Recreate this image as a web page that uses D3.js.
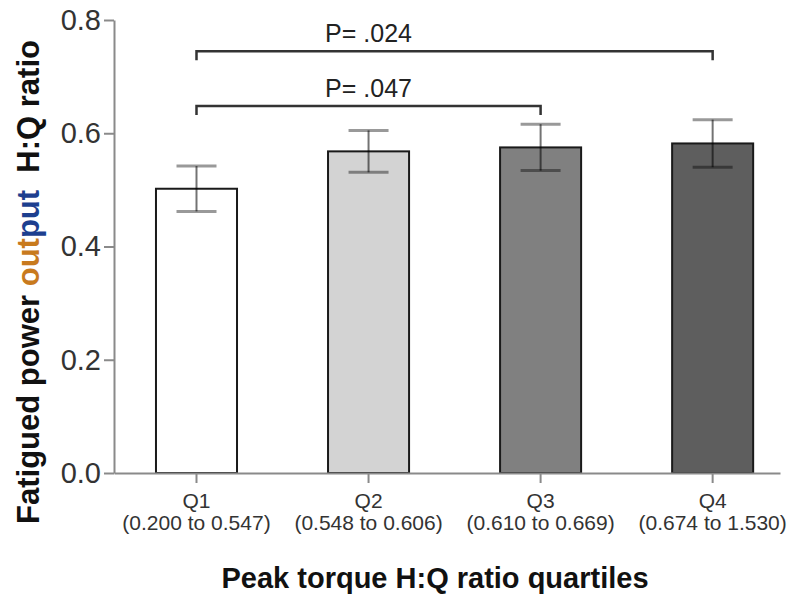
<!DOCTYPE html>
<html>
<head>
<meta charset="utf-8">
<script src="https://cdn.jsdelivr.net/npm/d3@7"></script>
<style>
  body { margin: 0; background: #fff; }
  svg, svg text { font-family: "Liberation Sans", Arial, sans-serif; }
</style>
</head>
<body>
<div id="chart"></div>
<script>
var quartiles = ["Q1", "Q2", "Q3", "Q4"];
var ranges = ["(0.200 to 0.547)", "(0.548 to 0.606)", "(0.610 to 0.669)", "(0.674 to 1.530)"];
var means = [0.502, 0.568, 0.575, 0.582];
var errors = [0.040, 0.037, 0.041, 0.042];
var fills = ["#ffffff", "#d3d3d3", "#808080", "#5e5e5e"];
var yTicks = [0.0, 0.2, 0.4, 0.6, 0.8];

// significance brackets: from, to, height, label
var brackets = [
    { from: "Q1", to: "Q4", y: 0.745, label: "P= .024" },
    { from: "Q1", to: "Q3", y: 0.648, label: "P= .047" }
];

const w = 792;
const h = 599;

const svg = d3.select("#chart")
    .append("svg")
    .attr("width", w)
    .attr("height", h);

const xScale = d3.scaleBand()
    .domain(quartiles)
    .range([114, 780])
    .paddingInner(0.529)
    .paddingOuter(0.2)
    .align(0.61);

const yScale = d3.scaleLinear()
    .domain([0, 0.8])
    .range([473, 20]);

const cx = (q) => xScale(q) + xScale.bandwidth() / 2;

// bars
svg.selectAll("rect.bar")
    .data(quartiles)
    .enter()
    .append("rect")
    .attr("class", "bar")
    .attr("x", (d) => xScale(d))
    .attr("y", (d, i) => yScale(means[i]))
    .attr("width", xScale.bandwidth())
    .attr("height", (d, i) => yScale(0) - yScale(means[i]))
    .attr("fill", (d, i) => fills[i])
    .attr("stroke", "#1a1a1a")
    .attr("stroke-width", 2);

// error bars
const capHalf = 20;
const err = svg.append("g").attr("class", "errors");
quartiles.forEach((q, i) => {
    var top = yScale(means[i] + errors[i]);
    var bot = yScale(means[i] - errors[i]);
    err.append("line")
        .attr("x1", cx(q)).attr("x2", cx(q))
        .attr("y1", top).attr("y2", bot)
        .attr("stroke", "#000").attr("stroke-opacity", 0.55).attr("stroke-width", 2);
    [top, bot].forEach((yy) => {
        err.append("line")
            .attr("x1", cx(q) - capHalf).attr("x2", cx(q) + capHalf)
            .attr("y1", yy).attr("y2", yy)
            .attr("stroke", "#000").attr("stroke-opacity", 0.4).attr("stroke-width", 3);
    });
});

// Y axis
const yAxis = d3.axisLeft(yScale)
    .tickValues(yTicks)
    .tickFormat(d3.format(".1f"))
    .tickSize(10)
    .tickSizeOuter(0)
    .tickPadding(3);

const gy = svg.append("g")
    .attr("id", "y-axis")
    .attr("transform", "translate(114,0)")
    .call(yAxis)
    .attr("font-family", "Liberation Sans, Arial, sans-serif");
gy.select(".domain").attr("stroke", "#8a8a8a").attr("stroke-width", 2);
gy.selectAll(".tick line").attr("stroke", "#8a8a8a").attr("stroke-width", 2);
gy.selectAll(".tick text")
    .attr("fill", "#333")
    .style("font-size", "29px");

// X axis
const xAxis = d3.axisBottom(xScale)
    .tickSize(10)
    .tickSizeOuter(0)
    .tickFormat("");

const gx = svg.append("g")
    .attr("id", "x-axis")
    .attr("transform", "translate(0,473)")
    .call(xAxis)
    .attr("font-family", "Liberation Sans, Arial, sans-serif");
gx.select(".domain").attr("stroke", "#8a8a8a").attr("stroke-width", 2);
gx.selectAll(".tick line").attr("stroke", "#8a8a8a").attr("stroke-width", 2);

gx.selectAll(".tick").each(function (d, i) {
    var t = d3.select(this).append("text")
        .attr("fill", "#333")
        .attr("text-anchor", "middle")
        .style("font-size", "21px");
    t.append("tspan").attr("x", 0).attr("y", 35).text(d);
    t.append("tspan").attr("x", 0).attr("y", 57).text(ranges[i]);
});

// significance brackets
const br = svg.append("g").attr("class", "brackets");
brackets.forEach((b) => {
    var yy = yScale(b.y);
    var x1 = cx(b.from), x2 = cx(b.to);
    br.append("path")
        .attr("d", "M" + x1 + "," + (yy + 9) + "V" + yy + "H" + x2 + "V" + (yy + 9))
        .attr("fill", "none")
        .attr("stroke", "#333")
        .attr("stroke-width", 2.5);
    br.append("text")
        .attr("x", cx("Q2"))
        .attr("y", yy - 9)
        .attr("text-anchor", "middle")
        .attr("fill", "#222")
        .style("font-size", "25px")
        .text(b.label);
});

// axis titles
svg.append("text")
    .attr("x", 435)
    .attr("y", 588)
    .attr("text-anchor", "middle")
    .style("font-size", "29px")
    .style("font-weight", "bold")
    .attr("fill", "#111")
    .text("Peak torque H:Q ratio quartiles");

const yTitle = svg.append("text")
    .attr("transform", "translate(39,282) rotate(-90)")
    .attr("text-anchor", "middle")
    .style("font-size", "31px")
    .style("font-weight", "bold")
    .attr("fill", "#111");
yTitle.append("tspan").text("Fatigued power ");
yTitle.append("tspan").attr("fill", "#c87a1e").text("out");
yTitle.append("tspan").attr("fill", "#1d3f8f").text("put");
yTitle.append("tspan").attr("xml:space", "preserve").text("  H:Q ratio");
</script>
</body>
</html>
